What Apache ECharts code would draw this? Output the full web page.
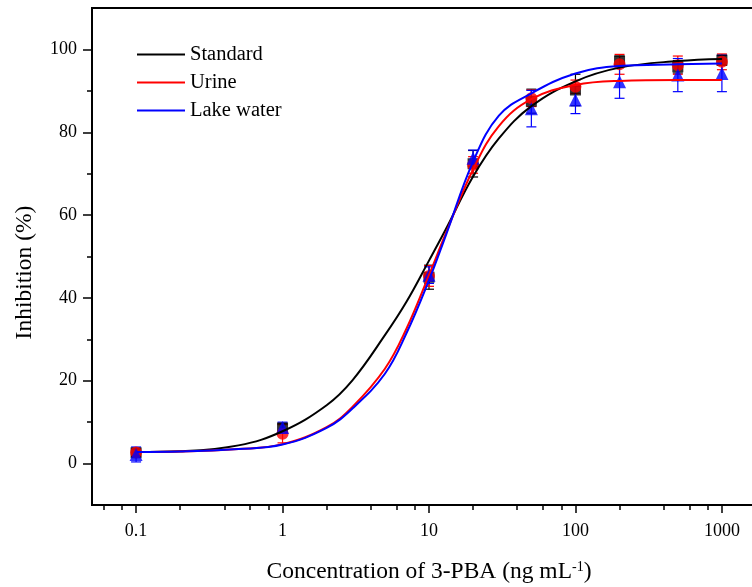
<!DOCTYPE html>
<html>
<head>
<meta charset="utf-8">
<script src="https://cdn.jsdelivr.net/npm/echarts@6/dist/echarts.min.js"></script>
<style>
  html, body { margin: 0; padding: 0; background: #fff; }
  #chart { width: 752px; height: 587px; }
</style>
</head>
<body>
<div id="chart"></div>
<script>
// measured points (mean and error) at each concentration, ng/mL
const concs = [0.1, 1, 10, 20, 50, 100, 200, 500, 1000];
const standardMean = [2.6, 8.6, 45.0, 72.4, 87.5, 90.2, 97.2, 95.8, 97.4];
const standardErr = [0.9, 1.0, 2.9, 3.2, 2.9, 3.8, 1.2, 1.5, 1.2];
const urineMean = [2.7, 7.2, 45.3, 72.1, 88.2, 91.0, 96.4, 96.2, 97.0];
const urineErr = [0.8, 2.2, 2.5, 2.0, 2.0, 1.6, 2.4, 2.2, 1.9];
const lakeMean = [2.2, 8.7, 45.5, 73.7, 85.7, 87.8, 92.2, 93.8, 94.2];
const lakeErr = [1.8, 1.3, 2.0, 2.0, 4.4, 3.3, 4.0, 4.0, 4.4];

// fitted curves
const curveConc = [0.1, 0.2, 0.5, 1, 2, 3, 5, 7, 10, 13, 20, 30, 50, 100, 200, 500, 1000];
const standardFit = [2.8, 3.0, 4.4, 7.8, 14.1, 20.1, 31.0, 39.0, 49.0, 56.5, 69.3, 78.5, 86.3, 92.3, 95.6, 97.2, 97.7];
const urineFit = [2.8, 2.9, 3.5, 4.7, 8.8, 13.7, 22.9, 32.5, 45.5, 55.5, 71.0, 81.5, 88.0, 91.4, 92.4, 92.6, 92.6];
const lakeFit = [2.8, 2.9, 3.5, 4.6, 8.6, 13.3, 21.7, 31.4, 44.3, 55.0, 72.9, 84.0, 89.4, 94.2, 96.0, 96.4, 96.6];

// axis ticks
const xMajorTicks = [0.1, 1, 10, 100, 1000];
const xMinorTicks = [0.06, 0.08, 0.2, 0.4, 0.6, 0.8, 2, 4, 6, 8, 20, 40, 60, 80,
  200, 400, 600, 800];
const yMajorTicks = [0, 20, 40, 60, 80, 100];
const yMinorTicks = [10, 30, 50, 70, 90];

const FONT = 'Liberation Serif';
const lg = v => Math.log10(v);

function pairs(xs, ys) {
  return xs.map((x, i) => [lg(x), ys[i]]);
}
function bars(mean, err) {
  return concs.map((x, i) => [lg(x), mean[i] - err[i], mean[i] + err[i]]);
}
function errorBar(color) {
  return function (params, api) {
    const top = api.coord([api.value(0), api.value(2)]);
    const bot = api.coord([api.value(0), api.value(1)]);
    const w = 5;
    const st = { stroke: color, lineWidth: 1.2 };
    return {
      type: 'group',
      children: [
        { type: 'line', shape: { x1: top[0], y1: top[1], x2: bot[0], y2: bot[1] }, style: st },
        { type: 'line', shape: { x1: top[0] - w, y1: top[1], x2: top[0] + w, y2: top[1] }, style: st },
        { type: 'line', shape: { x1: bot[0] - w, y1: bot[1], x2: bot[0] + w, y2: bot[1] }, style: st }
      ]
    };
  };
}

const groups = [
  { name: 'Standard', color: '#000000', symbol: 'rect', size: 11, mean: standardMean, err: standardErr, fit: standardFit },
  { name: 'Urine', color: '#ff0000', symbol: 'circle', size: 12, mean: urineMean, err: urineErr, fit: urineFit },
  { name: 'Lake water', color: '#0000ff', symbol: 'triangle', size: 13, mean: lakeMean, err: lakeErr, fit: lakeFit }
];

const series = [];
groups.forEach((g, i) => {
  series.push({
    name: g.name + ' err',
    type: 'custom',
    renderItem: errorBar(g.color),
    data: bars(g.mean, g.err),
    encode: { x: 0, y: [1, 2] },
    z: 2 + i
  });
  series.push({
    name: g.name + ' pts',
    type: 'scatter',
    symbol: g.symbol,
    symbolSize: g.size,
    itemStyle: { color: g.color },
    data: pairs(concs, g.mean),
    z: 5 + i
  });
});
groups.forEach((g, i) => {
  series.push({
    name: g.name,
    type: 'line',
    smooth: 0.4,
    symbol: 'none',
    lineStyle: { color: g.color, width: 2 },
    itemStyle: { color: g.color },
    data: pairs(curveConc, g.fit),
    z: 10 + i
  });
});

const axisTickStyle = { color: '#000', width: 1.5 };

const chart = echarts.init(document.getElementById('chart'), null, { renderer: 'canvas' });
chart.setOption({
  backgroundColor: '#ffffff',
  animation: false,
  textStyle: { fontFamily: FONT, color: '#000' },
  grid: {
    left: 92, top: 8, right: -14, bottom: 82,
    show: true, borderColor: '#000', borderWidth: 2,
    outerBoundsMode: 'none'
  },
  legend: {
    data: ['Standard', 'Urine', 'Lake water'],
    orient: 'vertical',
    left: 137,
    top: 44,
    padding: 0,
    icon: 'rect',
    itemWidth: 48,
    itemHeight: 2,
    itemGap: 7,
    textStyle: { fontFamily: FONT, fontSize: 20.5, color: '#000', lineHeight: 20 }
  },
  xAxis: [
    {
      type: 'value',
      min: lg(0.05),
      max: lg(2000),
      name: 'Concentration of 3-PBA (ng mL{sup|-1})',
      nameLocation: 'middle',
      nameGap: 55,
      nameTextStyle: {
        fontFamily: FONT, fontSize: 23.5, color: '#000',
        rich: { sup: { fontFamily: FONT, fontSize: 14, color: '#000', verticalAlign: 'top' } }
      },
      splitLine: { show: false },
      axisLine: { show: true, onZero: false, lineStyle: { color: '#000', width: 2 } },
      axisTick: { show: true, inside: false, length: 8, customValues: xMajorTicks.map(lg), lineStyle: axisTickStyle },
      axisLabel: {
        customValues: xMajorTicks.map(lg),
        margin: 17,
        fontFamily: FONT, fontSize: 18, color: '#000',
        formatter: v => String(+Math.pow(10, v).toPrecision(3))
      }
    },
    {
      type: 'value',
      position: 'bottom',
      min: lg(0.05),
      max: lg(2000),
      splitLine: { show: false },
      axisLine: { show: false, onZero: false },
      axisTick: { show: true, inside: false, length: 5, customValues: xMinorTicks.map(lg), lineStyle: axisTickStyle },
      axisLabel: { show: false }
    }
  ],
  yAxis: [
    {
      type: 'value',
      min: -10,
      max: 110,
      name: 'Inhibition (%)',
      nameLocation: 'middle',
      nameGap: 55,
      nameTextStyle: { fontFamily: FONT, fontSize: 23.5, color: '#000', padding: [0, 32, 0, 0] },
      splitLine: { show: false },
      axisLine: { show: true, onZero: false, lineStyle: { color: '#000', width: 2 } },
      axisTick: { show: true, inside: false, length: 9, customValues: yMajorTicks, lineStyle: axisTickStyle },
      axisLabel: { customValues: yMajorTicks, margin: 15, fontFamily: FONT, fontSize: 18, color: '#000' }
    },
    {
      type: 'value',
      position: 'left',
      min: -10,
      max: 110,
      splitLine: { show: false },
      axisLine: { show: false, onZero: false },
      axisTick: { show: true, inside: false, length: 5, customValues: yMinorTicks, lineStyle: axisTickStyle },
      axisLabel: { show: false }
    }
  ],
  series: series
});
</script>
</body>
</html>
